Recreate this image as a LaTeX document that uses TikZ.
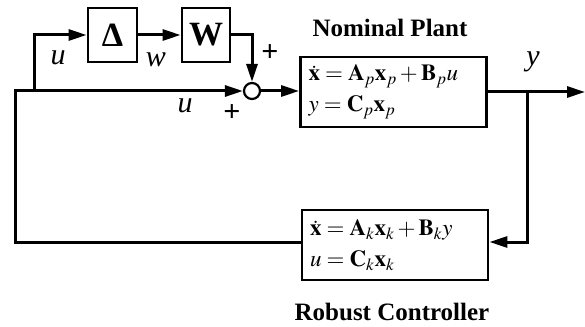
\documentclass[tikz,border=0pt]{standalone}
\usepackage{mathptmx}
\usepackage{fontspec}
\setmainfont{Liberation Serif}
\usepackage{tikz}
\usetikzlibrary{arrows.meta, positioning, calc}
\tikzset{
  blk/.style={rectangle, draw=black, fill=white, line width=2.8pt,
    inner sep=0pt, align=center, font=\fontsize{34}{36}\selectfont\bfseries},
  eqblock/.style={rectangle, draw=black, fill=white, line width=2.8pt,
    minimum width=186pt, minimum height=70pt, text width=170pt, inner sep=6pt,
    align=left, font=\fontsize{23}{31}\selectfont},
  sumjunc/.style={circle, draw=black, fill=white, line width=2.2pt,
    minimum size=16pt, inner sep=0pt},
  arrow/.style={-{Triangle[length=18pt, width=11pt]}, line width=3pt},
  line/.style={line width=3pt},
  lbl/.style={font=\fontsize{30}{32}\selectfont\itshape},
  sgn/.style={font=\fontsize{30}{32}\selectfont\bfseries},
  title/.style={font=\fontsize{25}{27}\selectfont\bfseries, anchor=base}
}

\begin{document}
\begin{tikzpicture}[x=1pt, y=-1pt]
  \useasboundingbox (0,0) rectangle (585,326);

  % Blocks
  \node[blk, minimum width=49pt, minimum height=54pt] (delta) at (112.5,35) {Δ};
  \node[blk, minimum width=48pt, minimum height=54pt] (wgt) at (206,35) {W};
  \node[sumjunc] (sum) at (252,91) {};
  \node[eqblock] (plant) at (393.5,92) {$\dot{\mathbf{x}} = \mathbf{A}_p\mathbf{x}_p + \mathbf{B}_p u$\\$y = \mathbf{C}_p\mathbf{x}_p$};
  \node[eqblock] (ctrl) at (395,245) {$\dot{\mathbf{x}} = \mathbf{A}_k\mathbf{x}_k + \mathbf{B}_k y$\\$u = \mathbf{C}_k\mathbf{x}_k$};

  % Titles
  \node[title] (ptitle) at (390,37) {Nominal Plant};
  \node[title] (ctitle) at (392,320) {Robust Controller};

  % Corners
  \coordinate (split) at (34,91);
  \coordinate (lcorner) at (15,91);
  \coordinate (branch) at (527,92);
  \coordinate (yend) at (585,92);

  % Paths
  \draw[line] (ctrl.west |- 0,242) -| (lcorner) -- (split);
  \draw[arrow] (split) -- (sum.west);
  \draw[arrow] (split) |- (delta.west);
  \draw[arrow] (delta.east) -- (wgt.west);
  \draw[arrow] (wgt.east) -| (sum.north);
  \draw[arrow] (sum.east) -- (plant.west |- sum.east);
  \draw[arrow] (plant.east) -- (yend);
  \draw[arrow] (branch) |- (ctrl.east |- 0,242);

  % Signals
  \node[lbl] (ulbl) at (58,58) {u};
  \node[lbl] (wlbl) at (156,60) {w};
  \node[lbl] (ulbl2) at (185,106) {u};
  \node[lbl] (ylbl) at (533,62) {y};
  \node[sgn] (ptop) at (270,53) {+};
  \node[sgn] (pbot) at (232,113) {+};
\end{tikzpicture}
\end{document}
